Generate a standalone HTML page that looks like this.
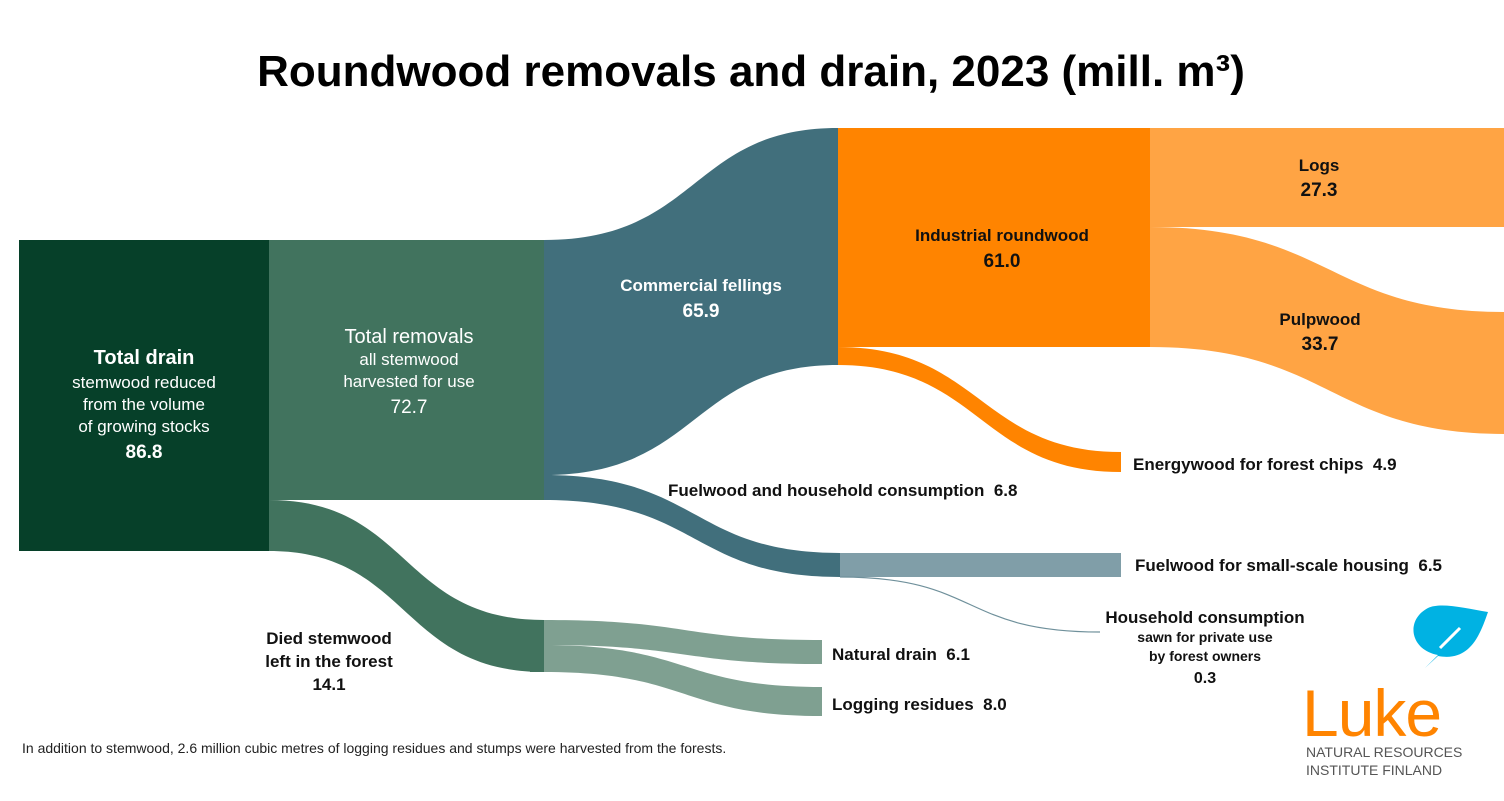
<!DOCTYPE html><html><head><style>body{margin:0;background:#fff}svg text{font-family:"Liberation Sans",sans-serif;white-space:pre}</style></head><body>
<svg width="1504" height="796" viewBox="0 0 1504 796" xmlns="http://www.w3.org/2000/svg">
<rect width="1504" height="796" fill="#fff"/>
<text x="751" y="86" text-anchor="middle" font-size="44" font-weight="bold" fill="#000">Roundwood removals and drain, 2023 (mill. m³)</text>
<path d="M544,240 C700,240 690,128 838,128 L838,365 C690,365 700,475 544,475Z" fill="#416f7c"/>
<path d="M544,475 C700,475 690,553 840,553 L840,577 C690,577 700,500 544,500Z" fill="#416f7c"/>
<rect x="840" y="553" width="281" height="24" fill="#809ea8"/>
<path d="M840,577 C980,577 960,632 1100,632" fill="none" stroke="#6f909b" stroke-width="1.2"/>
<path d="M838,347 C980,347 980,452 1121,452 L1121,472 C980,472 980,365 838,365Z" fill="#ff8400"/>
<rect x="838" y="128" width="312" height="219" fill="#ff8400"/>
<rect x="1150" y="128" width="354" height="99" fill="#ffa444"/>
<path d="M1150,227 C1330,227 1330,312 1504,312 L1504,434 C1330,434 1330,347 1150,347Z" fill="#ffa444"/>
<path d="M269,500 C410,500 400,620 544,620 L544,672 C400,672 410,551 269,551Z" fill="#41735e"/>
<rect x="530" y="620" width="14" height="52" fill="#41735e"/>
<path d="M544,620 C690,620 680,640 822,640 L822,664 C680,664 690,645 544,645Z" fill="#7fa091"/>
<path d="M544,645 C690,645 680,687 822,687 L822,716 C680,716 690,672 544,672Z" fill="#7fa091"/>
<rect x="19" y="240" width="250" height="311" fill="#064029"/>
<rect x="269" y="240" width="275" height="260" fill="#41735e"/>
<g fill="#fff" text-anchor="middle">
<text x="144" y="364" font-size="20" font-weight="bold">Total drain</text>
<text x="144" y="388" font-size="17">stemwood reduced</text>
<text x="144" y="410" font-size="17">from the volume</text>
<text x="144" y="432" font-size="17">of growing stocks</text>
<text x="144" y="458" font-size="19" font-weight="bold">86.8</text>
<text x="409" y="343" font-size="20">Total removals</text>
<text x="409" y="365" font-size="17">all stemwood</text>
<text x="409" y="387" font-size="17">harvested for use</text>
<text x="409" y="413" font-size="19">72.7</text>
<text x="701" y="291" font-size="17" font-weight="bold">Commercial fellings</text>
<text x="701" y="317" font-size="19" font-weight="bold">65.9</text>
</g>
<g fill="#111" text-anchor="middle" font-weight="bold">
<text x="1002" y="241" font-size="17">Industrial roundwood</text>
<text x="1002" y="267" font-size="19">61.0</text>
<text x="1319" y="171" font-size="17">Logs</text>
<text x="1319" y="196" font-size="19">27.3</text>
<text x="1320" y="325" font-size="17">Pulpwood</text>
<text x="1320" y="350" font-size="19">33.7</text>
<text x="329" y="644" font-size="17">Died stemwood</text>
<text x="329" y="667" font-size="17">left in the forest</text>
<text x="329" y="690" font-size="17">14.1</text>
<text x="1205" y="623" font-size="17">Household consumption</text>
<text x="1205" y="642" font-size="14">sawn for private use</text>
<text x="1205" y="661" font-size="14">by forest owners</text>
<text x="1205" y="683" font-size="16">0.3</text>
</g>
<g fill="#111" font-size="17" font-weight="bold">
<text x="1133" y="470">Energywood for forest chips  4.9</text>
<text x="668" y="496">Fuelwood and household consumption  6.8</text>
<text x="1135" y="571">Fuelwood for small-scale housing  6.5</text>
<text x="832" y="660">Natural drain  6.1</text>
<text x="832" y="710">Logging residues  8.0</text>
</g>
<text x="22" y="753" font-size="14" fill="#222">In addition to stemwood, 2.6 million cubic metres of logging residues and stumps were harvested from the forests.</text>
<path d="M1425,668 L1438,655 C1410,650 1405,620 1428,608 C1440,602 1465,608 1488,612 C1480,635 1470,662 1438,656 Z" fill="#00b2e3"/>
<path d="M1440,648 L1460,628" stroke="#fff" stroke-width="3"/>
<text x="1302" y="736" font-size="66" fill="#ff8400" letter-spacing="-1">Luke</text>
<text x="1306" y="757" font-size="14" fill="#555">NATURAL RESOURCES</text>
<text x="1306" y="775" font-size="14" fill="#555">INSTITUTE FINLAND</text>
</svg>
</body></html>
